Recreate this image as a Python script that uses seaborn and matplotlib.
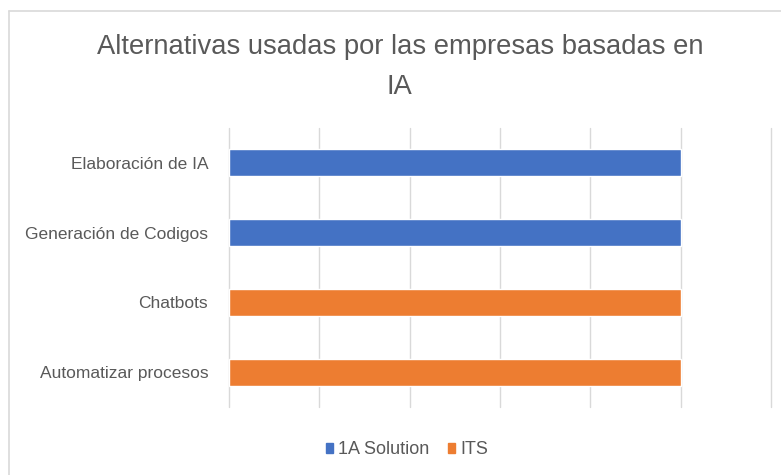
import matplotlib
matplotlib.use("Agg")
import matplotlib.pyplot as plt
import seaborn as sns
import pandas as pd
from matplotlib.patches import Rectangle
from matplotlib.lines import Line2D

categories = ["Elaboración de IA", "Generación de Codigos", "Chatbots", "Automatizar procesos"]
values = [1, 1, 1, 1]
series = ["1A Solution", "1A Solution", "ITS", "ITS"]
palette = {"1A Solution": "#4472C4", "ITS": "#ED7D31"}
title = "Alternativas usadas por las empresas basadas en\nIA"

df = pd.DataFrame({"cat": categories, "val": values, "series": series})

sns.set_theme(style="white")
plt.rcParams['font.family'] = ['Liberation Sans', 'DejaVu Sans']

fig = plt.figure(figsize=(7.81, 4.75), dpi=100)
ax = fig.add_axes([229/781, 1-407/475, (771-229)/781, (407-128)/475])

sns.barplot(data=df, y="cat", x="val", hue="series", palette=palette,
            dodge=False, width=0.39, ax=ax, legend=False, saturation=1)

ax.set_xlim(0, 1.2)
ax.set_xticks([0, 0.2, 0.4, 0.6, 0.8, 1.0, 1.2])
ax.set_xticklabels([])
ax.grid(axis="x", color="#d9d9d9", linewidth=1)
for gl in ax.get_xgridlines():
    gl.set_clip_on(False)
ax.set_axisbelow(True)
for s in ax.spines.values():
    s.set_visible(False)
ax.set_xlabel("")
ax.set_ylabel("")
ax.tick_params(axis="y", length=0, pad=15, labelsize=12.5, labelcolor="#595959")
ax.tick_params(axis="x", length=0)

fig.text(0.512, 1-67/475, title, ha="center", va="center", fontsize=19.7,
         color="#595959", linespacing=1.65)

handles = [Rectangle((0, 0), 1, 1, color=palette[k]) for k in ["1A Solution", "ITS"]]
fig.legend(handles, ["1A Solution", "ITS"], loc="center", bbox_to_anchor=(407/781, 1-450/475),
           ncol=2, frameon=False, fontsize=13, handlelength=0.4, handleheight=0.4,
           columnspacing=1.0, handletextpad=0.3, labelcolor="#595959")

# Chart-area frame: only its top and left edges fall inside the image
x0, y0 = 9/781, 1 - 11/475
fig.lines.append(Line2D([x0, 1.0], [y0, y0], transform=fig.transFigure,
                        color="#d9d9d9", linewidth=1.2))
fig.lines.append(Line2D([x0, x0], [0.0, y0], transform=fig.transFigure,
                        color="#d9d9d9", linewidth=1.2))

fig.savefig("out.png", dpi=100)
